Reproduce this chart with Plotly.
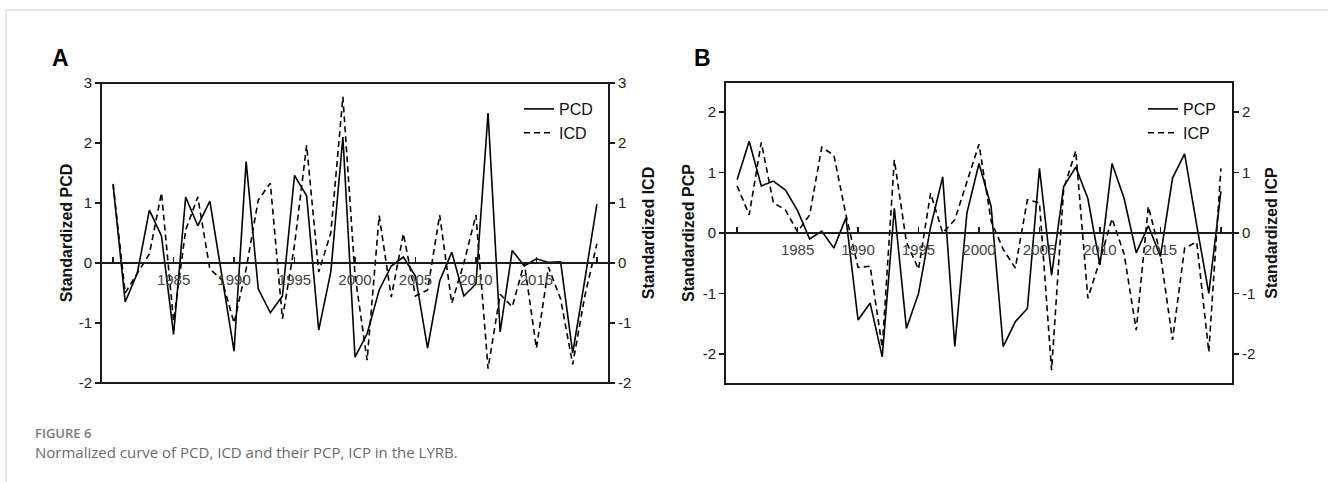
import plotly.graph_objects as go

# ---------------- data ----------------
years = list(range(1980, 2021))

pcd = [1.30, -0.65, -0.17, 0.88, 0.45, -1.19, 1.10, 0.62, 1.03, -0.20,
       -1.47, 1.69, -0.43, -0.83, -0.55, 1.46, 1.12, -1.12, -0.15, 2.10,
       -1.57, -1.18, -0.45, -0.05, 0.10, -0.22, -1.42, -0.30, 0.18, -0.55,
       -0.35, 2.50, -1.15, 0.21, -0.05, 0.07, 0.01, 0.02, -1.50, -0.28, 0.98]
icd = [1.32, -0.50, -0.17, 0.15, 1.17, -0.97, 0.55, 1.10, -0.10, -0.28,
       -1.00, -0.10, 1.05, 1.33, -0.93, 0.30, 1.96, -0.15, 0.50, 2.77,
       -0.20, -1.62, 0.79, -0.57, 0.49, -0.55, -0.45, 0.80, -0.67, 0.00,
       0.80, -1.76, -0.52, -0.73, 0.00, -1.42, -0.07, -0.60, -1.69, -0.55, 0.32]
pcp = [0.88, 1.52, 0.78, 0.86, 0.71, 0.37, -0.10, 0.03, -0.25, 0.25,
       -1.44, -1.16, -2.05, 0.41, -1.58, -1.00, 0.10, 0.93, -1.88, 0.33,
       1.15, 0.44, -1.88, -1.47, -1.25, 1.07, -0.70, 0.77, 1.09, 0.57,
       -0.53, 1.15, 0.57, -0.33, 0.12, -0.39, 0.91, 1.31, 0.13, -1.00, 0.69]
icp = [0.78, 0.30, 1.50, 0.50, 0.38, 0.02, 0.30, 1.42, 1.29, 0.30,
       -0.57, -0.55, -1.89, 1.21, -0.15, -0.60, 0.66, 0.00, 0.22, 0.85,
       1.47, 0.20, -0.27, -0.58, 0.55, 0.50, -2.27, 0.73, 1.36, -1.08,
       -0.45, 0.24, -0.35, -1.61, 0.44, -0.35, -1.77, -0.25, -0.15, -1.97, 1.07]

year_ticks = [1980, 1985, 1990, 1995, 2000, 2005, 2010, 2015, 2020]
year_text_a = ["", "1985", "1990", "1995", "2000", "2005", "2010", "2016", ""]
year_text_b = ["", "1985", "1990", "1995", "2000", "2005", "2010", "2015", ""]
yticks_a = [-2, -1, 0, 1, 2, 3]
ytext_a = ["-2", "-1", "0", "1", "2", "3"]
yticks_b = [-2, -1, 0, 1, 2]
ytext_b = ["-2", "-1", "0", "1", "2"]

# ---------------- geometry ----------------
W, H = 1328, 482
def px(x):
    return x / W
def py(y):
    return (H - y) / H

FONT = "Arial, Liberation Sans, Helvetica, sans-serif"
INK = "#1a1a1a"

fig = go.Figure()

line_solid = dict(color="black", width=1.6)
line_dash = dict(color="black", width=1.6, dash="6px,4px")

fig.add_trace(go.Scatter(x=years, y=pcd, mode="lines", name="PCD", line=line_solid,
                         xaxis="x", yaxis="y", legend="legend"))
fig.add_trace(go.Scatter(x=years, y=icd, mode="lines", name="ICD", line=line_dash,
                         xaxis="x", yaxis="y2", legend="legend"))
fig.add_trace(go.Scatter(x=years, y=pcp, mode="lines", name="PCP", line=line_solid,
                         xaxis="x2", yaxis="y3", legend="legend2"))
fig.add_trace(go.Scatter(x=years, y=icp, mode="lines", name="ICP", line=line_dash,
                         xaxis="x2", yaxis="y4", legend="legend2"))

tickfont = dict(family=FONT, size=15, color="#222")
titlefont = dict(family=FONT, size=16, color="#111", weight="bold")

def xaxis_cfg(domain, pos, ticktext):
    return dict(domain=domain, range=[1979, 2021], anchor="free", position=pos,
                showline=True, linewidth=2, linecolor=INK, ticks="inside", ticklen=5,
                tickwidth=1.5, tickcolor=INK, tickvals=year_ticks, ticktext=ticktext,
                tickfont=dict(family=FONT, size=15, color="#444"), showgrid=False,
                ticklabelstandoff=3,
                zeroline=False, fixedrange=True, automargin=False)

def yaxis_cfg(domain, rng, vals, text, title, side="left", overlaying=None, anchor="x",
              standoff=6):
    d = dict(range=rng, anchor=anchor, side=side, tickvals=vals, ticktext=text,
             ticks="outside", ticklen=5, tickwidth=1.5, tickcolor=INK, tickfont=tickfont,
             showline=False, showgrid=False, zeroline=False, automargin=False,
             title=dict(text=title, font=titlefont, standoff=standoff), fixedrange=True)
    if overlaying:
        d["overlaying"] = overlaying
    else:
        d["domain"] = domain
    return d

dom_ax = [px(101), px(609)]
dom_ay = [py(383), py(83)]
dom_bx = [px(725), px(1233)]
dom_by = [py(384), py(82)]

fig.update_layout(
    width=W, height=H, margin=dict(l=0, r=0, t=0, b=0, autoexpand=False),
    paper_bgcolor="white", plot_bgcolor="white",
    xaxis=xaxis_cfg(dom_ax, py(263), year_text_a),
    yaxis=yaxis_cfg(dom_ay, [-2, 3], yticks_a, ytext_a, "Standardized PCD", anchor="x",
                    standoff=2),
    yaxis2=yaxis_cfg(None, [-2, 3], yticks_a, ytext_a, "Standardized ICD", side="right",
                     overlaying="y", anchor="x", standoff=12),
    xaxis2=xaxis_cfg(dom_bx, py(233), year_text_b),
    yaxis3=yaxis_cfg(dom_by, [-2.5, 2.5], yticks_b, ytext_b, "Standardized PCP", anchor="x2",
                     standoff=4),
    yaxis4=yaxis_cfg(None, [-2.5, 2.5], yticks_b, ytext_b, "Standardized ICP", side="right",
                     overlaying="y3", anchor="x2", standoff=11),
    legend=dict(x=px(519), y=py(92), xanchor="left", yanchor="top",
                bgcolor="rgba(0,0,0,0)", font=dict(family=FONT, size=16, color="#111"),
                tracegroupgap=0, itemwidth=30),
    legend2=dict(x=px(1143), y=py(92), xanchor="left", yanchor="top",
                 bgcolor="rgba(0,0,0,0)", font=dict(family=FONT, size=16, color="#111"),
                 tracegroupgap=0, itemwidth=30),
    showlegend=True,
)

# plot frames
for xr, yr in (("x domain", "y domain"), ("x2 domain", "y3 domain")):
    fig.add_shape(type="rect", xref=xr, yref=yr, x0=0, x1=1, y0=0, y1=1,
                  line=dict(color=INK, width=2), fillcolor="rgba(0,0,0,0)", layer="above")

# outer page border (left and top)
fig.add_shape(type="line", xref="paper", yref="paper", x0=px(6), x1=px(6), y0=py(10), y1=-0.05,
              line=dict(color="#cfcfcf", width=1))
fig.add_shape(type="line", xref="paper", yref="paper", x0=px(6), x1=1.05, y0=py(10), y1=py(10),
              line=dict(color="#cfcfcf", width=1))

# panel letters
fig.add_annotation(text="<b>A</b>", xref="paper", yref="paper", x=px(50), y=py(58),
                   xanchor="left", yanchor="middle", showarrow=False,
                   font=dict(family=FONT, size=23, color="black"))
fig.add_annotation(text="<b>B</b>", xref="paper", yref="paper", x=px(692), y=py(58),
                   xanchor="left", yanchor="middle", showarrow=False,
                   font=dict(family=FONT, size=23, color="black"))

# caption
fig.add_annotation(text="FIGURE 6", xref="paper", yref="paper", x=px(33), y=py(433),
                   xanchor="left", yanchor="middle", showarrow=False,
                   font=dict(family="Open Sans", size=13, color="#7a7a7a", weight=600))
fig.add_annotation(text="Normalized curve of PCD, ICD and their PCP, ICP in the LYRB.",
                   xref="paper", yref="paper", x=px(33), y=py(452),
                   xanchor="left", yanchor="middle", showarrow=False,
                   font=dict(family="Open Sans", size=15, color="#6a6a6a"))

fig.write_html("out.html", config={"displayModeBar": False, "staticPlot": True},
               post_script="document.body.style.margin='0';document.body.style.overflow='hidden';")
